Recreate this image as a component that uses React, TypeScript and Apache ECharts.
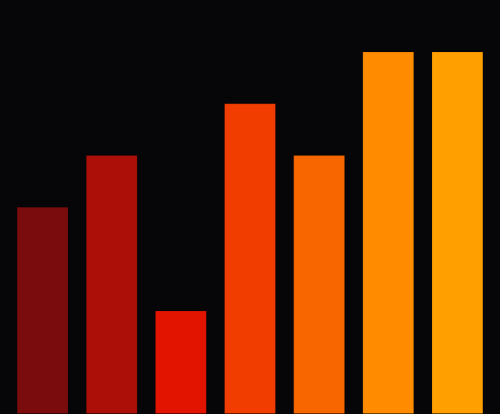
import { useEffect, useRef } from 'react';
import * as echarts from 'echarts';

// ---------------------------------------------------------------------------
// Data
// ---------------------------------------------------------------------------

const categories = ['A', 'B', 'C', 'D', 'E', 'F', 'G'];
const values = [4, 5, 2, 6, 5, 7, 7];
const barColors = ['#7b0c0e', '#ab0f08', '#e21400', '#f13d00', '#f86600', '#ff8c00', '#ffa000'];

const BG = '#060508';

export default function App() {
  const containerRef = useRef<HTMLDivElement | null>(null);

  useEffect(() => {
    document.documentElement.style.background = BG;
    document.body.style.background = BG;
    if (!containerRef.current) return;
    const chart = echarts.init(containerRef.current, undefined, { renderer: 'svg' });
    chart.setOption({
      animation: false,
      backgroundColor: BG,
      grid: { left: 0, right: 0, top: 0, bottom: 0 },
      xAxis: {
        type: 'category',
        data: categories,
        show: false,
      },
      yAxis: {
        type: 'value',
        min: 0,
        max: 7.84,
        show: false,
        splitLine: { show: false },
      },
      series: [
        {
          type: 'bar',
          barCategoryGap: '25%',
          data: values.map((v, i) => ({
            value: v,
            itemStyle: { color: barColors[i], borderColor: 'rgba(0,0,0,0.12)', borderWidth: 1 },
          })),
        },
      ],
    });
    return () => chart.dispose();
  }, []);

  return <div ref={containerRef} style={{ width: 484, height: 406 }} />;
}
